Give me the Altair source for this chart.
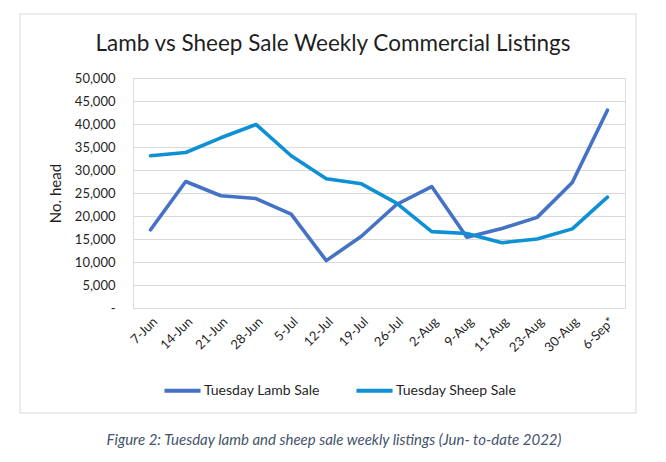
import altair as alt
import pandas as pd

weeks = ["7-Jun", "14-Jun", "21-Jun", "28-Jun", "5-Jul", "12-Jul", "19-Jul",
         "26-Jul", "2-Aug", "9-Aug", "11-Aug", "23-Aug", "30-Aug", "6-Sep*"]
lamb = [17000, 27500, 24400, 23800, 20400, 10300, 15600,
        22500, 26400, 15400, 17300, 19700, 27300, 43000]
sheep = [33100, 33800, 37000, 39900, 33100, 28100, 27000,
         22800, 16600, 16200, 14200, 15000, 17200, 24100]
series = ["Tuesday Lamb Sale", "Tuesday Sheep Sale"]
colors = ["#4472C4", "#0E90D4"]

title_text = "Lamb vs Sheep Sale Weekly Commercial Listings"
caption_text = "Figure 2: Tuesday lamb and sheep sale weekly listings (Jun- to-date 2022)"

rows = []
for i, w in enumerate(weeks):
    rows.append({"week": w, "series": series[0], "value": lamb[i]})
    rows.append({"week": w, "series": series[1], "value": sheep[i]})
df = pd.DataFrame(rows)

FONT = "Lato"
TXT = "#1f1f1f"

lines = alt.Chart(df).mark_line(strokeWidth=3.6, strokeCap="round", strokeJoin="round").encode(
    x=alt.X("week:O", sort=weeks, title=None,
            axis=alt.Axis(labelAngle=-45, labelFontSize=13, labelFont=FONT, labelColor=TXT,
                          ticks=False, domainColor="#D9D9D9", labelPadding=7, grid=False)),
    y=alt.Y("value:Q", title="No. head",
            scale=alt.Scale(domain=[0, 50000], nice=False),
            axis=alt.Axis(values=list(range(0, 50001, 5000)),
                          labelExpr="datum.value == 0 ? '-\u00a0\u00a0\u00a0' : format(datum.value, ',')",
                          labelFontSize=13, labelFont=FONT, labelColor=TXT,
                          ticks=False, domain=False, gridColor="#D9D9D9", labelPadding=18,
                          titleFont=FONT, titleFontSize=15, titleFontWeight="normal",
                          titleColor=TXT, titlePadding=11)),
    color=alt.Color("series:N", scale=alt.Scale(domain=series, range=colors),
                    legend=alt.Legend(title=None, orient="none", direction="horizontal",
                                      legendX=29, legendY=292, symbolType="stroke",
                                      symbolStrokeWidth=4, symbolSize=1300,
                                      labelFont=FONT, labelFontSize=14, labelColor=TXT,
                                      labelOffset=1, columnPadding=28)),
)

box = alt.Chart(pd.DataFrame({"a": [0]})).mark_rect(fill=None, stroke="#D9D9D9", strokeWidth=1, clip=False).encode(
    x=alt.value(-113), x2=alt.value(503), y=alt.value(-64), y2=alt.value(335))

title = alt.Chart(pd.DataFrame({"t": [title_text]})).mark_text(
    font=FONT, fontSize=22.5, color=TXT, align="center", baseline="alphabetic").encode(
    x=alt.value(200), y=alt.value(-27), text="t:N")

caption = alt.Chart(pd.DataFrame({"t": [caption_text]})).mark_text(
    font=FONT, fontSize=15, fontStyle="italic", color="#44546A", align="center", baseline="middle").encode(
    x=alt.value(201), y=alt.value(362), text="t:N")

chart = alt.layer(box, lines, title, caption).properties(
    width=492, height=230,
    autosize=alt.AutoSizeParams(type="none"),
    padding={"left": 133, "top": 78, "right": 41, "bottom": 154},
).configure_view(stroke=None).configure(background="white")

chart.save("out.html", embed_options={"renderer": "svg", "actions": False})
